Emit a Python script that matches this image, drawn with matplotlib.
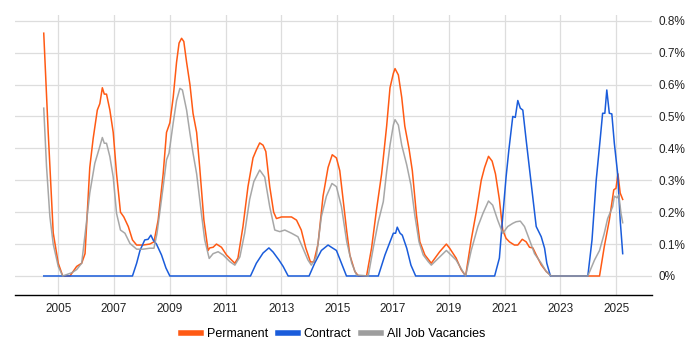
import matplotlib
matplotlib.use("Agg")
import matplotlib.pyplot as plt
from matplotlib.ticker import FuncFormatter, FixedLocator

perm_x = [2004.48, 2004.64, 2004.82, 2005.00, 2005.16, 2005.42, 2005.66, 2005.84, 2005.96, 2006.13,
          2006.25, 2006.40, 2006.49, 2006.58, 2006.65, 2006.73, 2006.85, 2006.97, 2007.09, 2007.23,
          2007.35, 2007.51, 2007.66, 2007.81, 2008.04, 2008.28, 2008.43, 2008.58, 2008.76, 2008.88,
          2009.00, 2009.12, 2009.24, 2009.33, 2009.42, 2009.50, 2009.60, 2009.72, 2009.83, 2009.96,
          2010.07, 2010.22, 2010.37, 2010.43, 2010.55, 2010.67, 2010.85, 2011.03, 2011.21, 2011.33,
          2011.44, 2011.62, 2011.80, 2011.98, 2012.10, 2012.22, 2012.34, 2012.44, 2012.58, 2012.72,
          2012.82, 2013.00, 2013.18, 2013.36, 2013.54, 2013.71, 2013.87, 2014.04, 2014.16, 2014.31,
          2014.49, 2014.67, 2014.82, 2014.97, 2015.09, 2015.22, 2015.34, 2015.45, 2015.63, 2015.76,
          2016.05, 2016.23, 2016.41, 2016.59, 2016.77, 2016.89, 2017.01, 2017.07, 2017.19, 2017.31,
          2017.42, 2017.57, 2017.69, 2017.84, 2017.96, 2018.14, 2018.37, 2018.67, 2018.91, 2019.02,
          2019.26, 2019.44, 2019.60, 2019.80, 2019.98, 2020.16, 2020.28, 2020.42, 2020.55, 2020.67,
          2020.81, 2020.93, 2021.05, 2021.17, 2021.35, 2021.47, 2021.63, 2021.77, 2021.89, 2022.01,
          2022.13, 2022.31, 2022.49, 2022.67, 2024.40, 2024.57, 2024.75, 2024.91, 2024.99, 2025.06,
          2025.14, 2025.23]
perm_y = [0.761, 0.45, 0.135, 0.04, 0.0, 0.0, 0.03, 0.04, 0.07, 0.34,
          0.43, 0.52, 0.54, 0.59, 0.57, 0.57, 0.52, 0.45, 0.32, 0.20,
          0.185, 0.155, 0.113, 0.097, 0.097, 0.10, 0.107, 0.175, 0.32, 0.45,
          0.48, 0.56, 0.67, 0.73, 0.745, 0.735, 0.67, 0.60, 0.51, 0.45,
          0.34, 0.175, 0.08, 0.088, 0.09, 0.10, 0.09, 0.066, 0.05, 0.04,
          0.056, 0.155, 0.28, 0.37, 0.395, 0.417, 0.41, 0.39, 0.28, 0.20,
          0.18, 0.185, 0.185, 0.185, 0.175, 0.144, 0.088, 0.044, 0.044, 0.10,
          0.25, 0.34, 0.38, 0.37, 0.33, 0.23, 0.14, 0.066, 0.014, 0.0,
          0.0, 0.088, 0.21, 0.32, 0.47, 0.59, 0.635, 0.65, 0.63, 0.56,
          0.47, 0.40, 0.33, 0.19, 0.107, 0.066, 0.04, 0.076, 0.10, 0.088,
          0.056, 0.02, 0.0, 0.113, 0.20, 0.30, 0.34, 0.375, 0.36, 0.32,
          0.24, 0.144, 0.118, 0.107, 0.097, 0.097, 0.115, 0.107, 0.09, 0.088,
          0.066, 0.035, 0.014, 0.0, 0.0, 0.092, 0.175, 0.27, 0.275, 0.32,
          0.26, 0.24]

contract_x = [2004.48, 2007.66, 2007.81, 2007.93, 2008.10, 2008.22, 2008.32, 2008.40, 2008.52, 2008.70,
              2008.86, 2009.00, 2011.89, 2012.10, 2012.34, 2012.55, 2012.70, 2012.91, 2013.06, 2013.24,
              2013.99, 2014.19, 2014.43, 2014.67, 2014.79, 2014.97, 2015.15, 2015.33, 2016.47, 2016.71,
              2016.89, 2017.01, 2017.09, 2017.15, 2017.25, 2017.33, 2017.49, 2017.64, 2017.81, 2020.64,
              2020.81, 2020.93, 2021.05, 2021.15, 2021.29, 2021.38, 2021.47, 2021.56, 2021.65, 2021.77,
              2021.95, 2022.13, 2022.31, 2022.43, 2022.51, 2022.64, 2023.98, 2024.13, 2024.28, 2024.42,
              2024.51, 2024.59, 2024.66, 2024.75, 2024.84, 2024.93, 2025.05, 2025.14, 2025.23]
contract_y = [0.0, 0.0, 0.04, 0.08, 0.113, 0.115, 0.128, 0.113, 0.10, 0.066,
              0.025, 0.0, 0.0, 0.04, 0.072, 0.088, 0.075, 0.05, 0.03, 0.0,
              0.0, 0.04, 0.08, 0.097, 0.09, 0.08, 0.04, 0.0, 0.0, 0.066,
              0.107, 0.134, 0.134, 0.153, 0.134, 0.128, 0.087, 0.034, 0.0, 0.0,
              0.056, 0.186, 0.31, 0.395, 0.50, 0.497, 0.55, 0.526, 0.52, 0.426,
              0.29, 0.155, 0.123, 0.087, 0.04, 0.0, 0.0, 0.113, 0.30, 0.426,
              0.51, 0.51, 0.583, 0.51, 0.508, 0.416, 0.32, 0.175, 0.07]

all_x = [2004.48, 2004.58, 2004.70, 2004.82, 2005.00, 2005.16, 2005.48, 2005.66, 2005.84, 2006.02,
         2006.13, 2006.31, 2006.47, 2006.58, 2006.65, 2006.73, 2006.85, 2006.97, 2007.09, 2007.23,
         2007.39, 2007.57, 2007.81, 2008.04, 2008.28, 2008.43, 2008.54, 2008.76, 2008.88, 2008.97,
         2009.12, 2009.24, 2009.36, 2009.45, 2009.60, 2009.72, 2009.83, 2009.96, 2010.13, 2010.25,
         2010.41, 2010.55, 2010.73, 2010.91, 2011.15, 2011.33, 2011.51, 2011.68, 2011.86, 2012.01,
         2012.22, 2012.40, 2012.58, 2012.76, 2012.94, 2013.12, 2013.36, 2013.59, 2013.77, 2013.95,
         2014.07, 2014.25, 2014.43, 2014.61, 2014.81, 2014.97, 2015.15, 2015.34, 2015.52, 2015.69,
         2016.11, 2016.29, 2016.47, 2016.65, 2016.77, 2016.89, 2017.01, 2017.07, 2017.19, 2017.31,
         2017.49, 2017.64, 2017.78, 2017.93, 2018.08, 2018.26, 2018.37, 2018.91, 2019.26, 2019.50,
         2019.60, 2019.80, 2020.04, 2020.22, 2020.42, 2020.57, 2020.75, 2020.93, 2021.11, 2021.29,
         2021.41, 2021.56, 2021.71, 2021.89, 2022.07, 2022.31, 2022.49, 2022.67, 2023.98, 2024.22,
         2024.40, 2024.57, 2024.69, 2024.87, 2024.93, 2025.03, 2025.09, 2025.17, 2025.23]
all_y = [0.526, 0.343, 0.186, 0.10, 0.03, 0.0, 0.01, 0.02, 0.04, 0.175,
         0.26, 0.353, 0.40, 0.434, 0.416, 0.416, 0.374, 0.31, 0.196, 0.144,
         0.134, 0.102, 0.084, 0.084, 0.087, 0.087, 0.134, 0.28, 0.364, 0.385,
         0.48, 0.55, 0.588, 0.583, 0.52, 0.447, 0.385, 0.32, 0.196, 0.113,
         0.055, 0.07, 0.076, 0.066, 0.045, 0.034, 0.06, 0.134, 0.24, 0.296,
         0.332, 0.31, 0.217, 0.144, 0.139, 0.144, 0.134, 0.123, 0.087, 0.05,
         0.034, 0.06, 0.186, 0.25, 0.29, 0.28, 0.217, 0.107, 0.04, 0.003,
         0.0, 0.088, 0.17, 0.233, 0.327, 0.41, 0.473, 0.49, 0.473, 0.41,
         0.348, 0.285, 0.19, 0.107, 0.066, 0.045, 0.034, 0.08, 0.05, 0.014,
         0.0, 0.08, 0.155, 0.196, 0.235, 0.222, 0.175, 0.134, 0.155, 0.165,
         0.17, 0.172, 0.155, 0.113, 0.07, 0.04, 0.014, 0.0, 0.0, 0.05,
         0.08, 0.134, 0.18, 0.217, 0.25, 0.245, 0.254, 0.196, 0.167]

x_ticks = [2005, 2007, 2009, 2011, 2013, 2015, 2017, 2019, 2021, 2023, 2025]
y_ticks = [0.0, 0.1, 0.2, 0.3, 0.4, 0.5, 0.6, 0.7, 0.8]

plt.rcParams['font.family'] = ['Liberation Sans', 'DejaVu Sans']

fig = plt.figure(figsize=(7, 3.5), dpi=100)
ax = fig.add_axes([15/700, 1 - 295/350, (652 - 15)/700, (295 - 15)/350])

ax.plot(perm_x, perm_y, color='#FF5A14', lw=1.1, label='Permanent', zorder=3,
        solid_joinstyle='round')
ax.plot(contract_x, contract_y, color='#1A5CDB', lw=1.1, label='Contract', zorder=4,
        solid_joinstyle='round')
ax.plot(all_x, all_y, color='#9E9E9E', lw=1.1, label='All Job Vacancies', zorder=5, alpha=0.9,
        solid_joinstyle='round')

ax.set_xlim(2003.45, 2026.28)
ax.set_ylim(-0.0596, 0.818)
ax.xaxis.set_major_locator(FixedLocator(x_ticks))
ax.yaxis.set_major_locator(FixedLocator(y_ticks))
ax.yaxis.tick_right()
ax.yaxis.set_major_formatter(FuncFormatter(lambda v, p: '0%' if abs(v) < 1e-9 else f'{v:.1f}%'))

ax.grid(True, color='#DDDDDD', lw=0.9, zorder=0)
ax.set_axisbelow(True)
for s in ['left', 'right', 'top']:
    ax.spines[s].set_visible(False)
ax.spines['bottom'].set_color('#000000')
ax.spines['bottom'].set_linewidth(1.0)
ax.tick_params(axis='both', length=0, labelsize=8.5, colors='#222222')
ax.tick_params(axis='x', pad=6)
ax.tick_params(axis='y', pad=5)

leg = fig.legend(loc='center', bbox_to_anchor=(333/700, 1 - 334/350), ncol=3, frameon=False,
                 fontsize=9, handlelength=1.6, handletextpad=0.45, columnspacing=0.8)
for h in leg.get_lines():
    h.set_linewidth(4)
    h.set_alpha(1)

fig.savefig('out.png', dpi=100)
